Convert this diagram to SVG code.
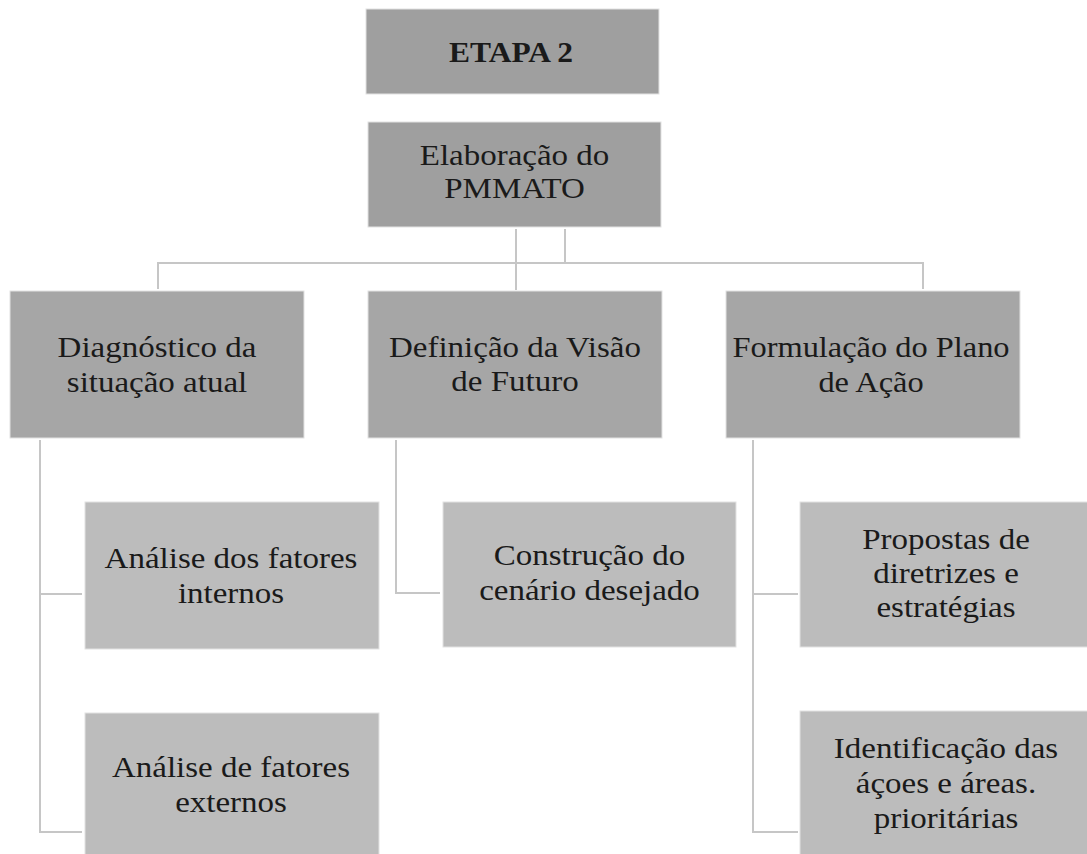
<svg xmlns="http://www.w3.org/2000/svg" width="1087" height="854" viewBox="0 0 1087 854">
<style>
.b0{fill:#9f9f9f;stroke:#e2e2e2;stroke-width:1}
.b1{fill:#a6a6a6;stroke:#e2e2e2;stroke-width:1}
.b2{fill:#bcbcbc;stroke:#e2e2e2;stroke-width:1}
.t{font-family:'Liberation Serif','Times New Roman',serif;font-size:30px;fill:#1a1a1a;text-anchor:middle}
.tb{font-weight:bold}
.c{fill:none;stroke:#c6c6c6;stroke-width:2}
</style>
<rect width="1087" height="854" fill="#ffffff"/>
<g id="connectors">
<path class="c" d="M516,229 V290"/>
<path class="c" d="M565,229 V263"/>
<path class="c" d="M158,289 V263 H923 V289"/>
<path class="c" d="M40,440 V832 H82"/>
<path class="c" d="M40,594 H82"/>
<path class="c" d="M396,440 V593 H440"/>
<path class="c" d="M753,440 V832 H798"/>
<path class="c" d="M753,594 H798"/>
</g>
<g id="etapa2">
<rect class="b0" x="366" y="9" width="293" height="85"/>
<text class="t tb" transform="translate(511,62) scale(1.05,1)">ETAPA 2</text>
</g>
<g id="elaboracao">
<rect class="b0" x="368" y="122" width="293" height="105"/>
<text class="t" transform="translate(514.5,0) scale(1.1,1)"><tspan x="0" y="165">Elaboração do</tspan><tspan x="0" y="198">PMMATO</tspan></text>
</g>
<g id="diagnostico">
<rect class="b1" x="10" y="291" width="294" height="147"/>
<text class="t" transform="translate(157,0) scale(1.1,1)"><tspan x="0" y="357">Diagnóstico da</tspan><tspan x="0" y="392">situação atual</tspan></text>
</g>
<g id="definicao">
<rect class="b1" x="368" y="291" width="294" height="147"/>
<text class="t" transform="translate(515,0) scale(1.1,1)"><tspan x="0" y="357">Definição da Visão</tspan><tspan x="0" y="391">de Futuro</tspan></text>
</g>
<g id="formulacao">
<rect class="b1" x="726" y="291" width="294" height="147"/>
<text class="t" transform="translate(871,0) scale(1.08,1)"><tspan x="0" y="357">Formulação do Plano</tspan><tspan x="0" y="392">de Ação</tspan></text>
</g>
<g id="analise-internos">
<rect class="b2" x="85" y="502" width="294" height="147"/>
<text class="t" transform="translate(231,0) scale(1.1,1)"><tspan x="0" y="568">Análise dos fatores</tspan><tspan x="0" y="603">internos</tspan></text>
</g>
<g id="analise-externos">
<rect class="b2" x="85" y="713" width="294" height="147"/>
<text class="t" transform="translate(231,0) scale(1.1,1)"><tspan x="0" y="777">Análise de fatores</tspan><tspan x="0" y="812">externos</tspan></text>
</g>
<g id="construcao">
<rect class="b2" x="443" y="502" width="293" height="145"/>
<text class="t" transform="translate(589.5,0) scale(1.1,1)"><tspan x="0" y="565">Construção do</tspan><tspan x="0" y="600">cenário desejado</tspan></text>
</g>
<g id="propostas">
<rect class="b2" x="800" y="502" width="294" height="145"/>
<text class="t" transform="translate(946,0) scale(1.1,1)"><tspan x="0" y="549">Propostas de</tspan><tspan x="0" y="583">diretrizes e</tspan><tspan x="0" y="617">estratégias</tspan></text>
</g>
<g id="identificacao">
<rect class="b2" x="800" y="711" width="294" height="147"/>
<text class="t" transform="translate(946,0) scale(1.1,1)"><tspan x="0" y="758">Identificação das</tspan><tspan x="0" y="793">áçoes e áreas.</tspan><tspan x="0" y="828">prioritárias</tspan></text>
</g>
</svg>
